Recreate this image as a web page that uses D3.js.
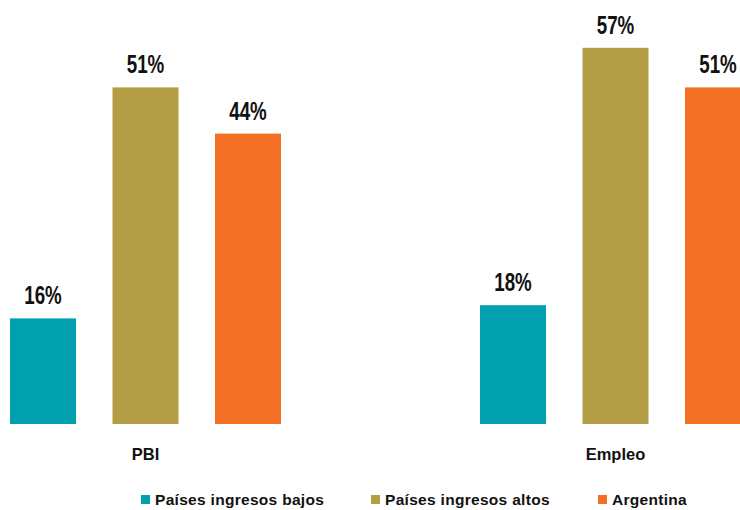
<!DOCTYPE html>
<html>
<head>
<meta charset="utf-8">
<script src="https://cdn.jsdelivr.net/npm/d3@7"></script>
<style>
  body { margin: 0; background: #fff; }
  svg { display: block; }
</style>
</head>
<body>
<div id="chart"></div>
<script>
// data
const categories = ["PBI", "Empleo"];
const series = ["Países ingresos bajos", "Países ingresos altos", "Argentina"];
const bajos = [16, 18];
const altos = [51, 57];
const argentina = [44, 51];
const colors = ["#00A0AE", "#B39E46", "#F37024"];

const width = 740, height = 510;
const baseY = 424;

const svg = d3.select("#chart")
  .append("svg")
    .attr("width", width)
    .attr("height", height);

const rows = categories.map((c, i) => ({
  cat: c,
  vals: [bajos[i], altos[i], argentina[i]]
}));

// group scale
let x0 = d3.scaleBand()
  .domain(categories)
  .range([10, 950])
  .padding(0);

// bar scale inside a group
const groupW = 271;
let x1 = d3.scaleBand()
  .domain(series)
  .range([0, groupW])
  .paddingInner(0.356)
  .paddingOuter(0);

let y = d3.scaleLinear()
  .domain([0, 60])
  .range([baseY, 28]);

const groups = svg.selectAll(".grp")
  .data(rows)
  .enter()
  .append("g")
    .attr("class", "grp")
    .attr("transform", d => "translate(" + x0(d.cat) + ",0)");

// bars
groups.selectAll("rect")
  .data(d => d.vals.map((v, j) => ({s: series[j], v: v, j: j})))
  .enter()
  .append("rect")
    .attr("x", d => x1(d.s))
    .attr("y", d => y(d.v))
    .attr("width", x1.bandwidth())
    .attr("height", d => y(0) - y(d.v))
    .attr("fill", d => colors[d.j]);

// value labels (condensed look)
groups.selectAll(".val")
  .data(d => d.vals.map((v, j) => ({s: series[j], v: v})))
  .enter()
  .append("text")
    .attr("class", "val")
    .attr("transform", d => "translate(" + (x1(d.s) + x1.bandwidth() / 2) + "," + (y(d.v) - 14) + ") scale(0.75,1)")
    .attr("text-anchor", "middle")
    .style("font-family", "'Liberation Sans', Arial, sans-serif")
    .style("font-weight", "bold")
    .style("font-size", "25px")
    .style("fill", "#111")
    .text(d => d.v + "%");

// category labels
groups.append("text")
  .attr("x", groupW / 2)
  .attr("y", 460)
  .attr("text-anchor", "middle")
  .style("font-family", "'Liberation Sans', Arial, sans-serif")
  .style("font-weight", "bold")
  .style("font-size", "16.5px")
  .style("fill", "#111")
  .text(d => d.cat);

// legend
const legendX = [141, 371, 598];
const legend = svg.selectAll(".leg")
  .data(series)
  .enter()
  .append("g")
    .attr("class", "leg")
    .attr("transform", (d, i) => "translate(" + legendX[i] + ",495)");

legend.append("rect")
  .attr("width", 9)
  .attr("height", 9)
  .attr("fill", (d, i) => colors[i]);

legend.append("text")
  .attr("x", 14)
  .attr("y", 10)
  .style("font-family", "'Liberation Sans', Arial, sans-serif")
  .style("font-weight", "bold")
  .style("font-size", "15.5px")
  .style("letter-spacing", "0.3px")
  .style("fill", "#111")
  .text(d => d);
</script>
</body>
</html>
